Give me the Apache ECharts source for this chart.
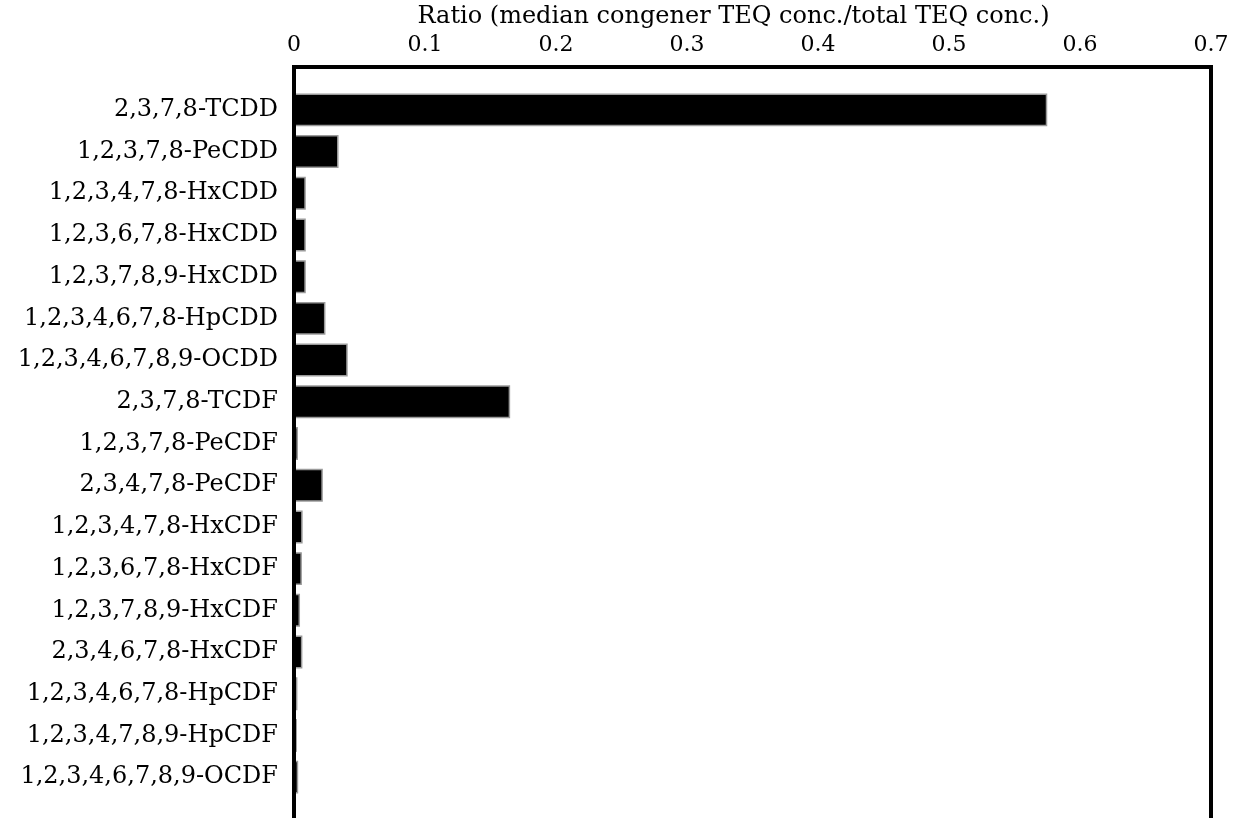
<!DOCTYPE html>
<html>
<head>
<meta charset="utf-8">
<script src="https://cdn.jsdelivr.net/npm/echarts@6/dist/echarts.min.js"></script>
<style>html,body{margin:0;padding:0;background:#fff;}#c{width:1239px;height:818px;}</style>
</head>
<body>
<div id="c"></div>
<script>
const categories = [
  "2,3,7,8-TCDD", "1,2,3,7,8-PeCDD", "1,2,3,4,7,8-HxCDD", "1,2,3,6,7,8-HxCDD",
  "1,2,3,7,8,9-HxCDD", "1,2,3,4,6,7,8-HpCDD", "1,2,3,4,6,7,8,9-OCDD", "2,3,7,8-TCDF",
  "1,2,3,7,8-PeCDF", "2,3,4,7,8-PeCDF", "1,2,3,4,7,8-HxCDF", "1,2,3,6,7,8-HxCDF",
  "1,2,3,7,8,9-HxCDF", "2,3,4,6,7,8-HxCDF", "1,2,3,4,6,7,8-HpCDF", "1,2,3,4,7,8,9-HpCDF",
  "1,2,3,4,6,7,8,9-OCDF"
];
const ratios = [
  0.575, 0.034, 0.009, 0.009, 0.009, 0.024, 0.041, 0.165,
  0.003, 0.022, 0.0066, 0.006, 0.0046, 0.0064, 0.0026, 0.0022, 0.0032
];
const xTicks = { min: 0, max: 0.7, interval: 0.1 };
const axisTitle = "Ratio (median congener TEQ conc./total TEQ conc.)";

const FONT = "DejaVu Serif";
const chart = echarts.init(document.getElementById('c'), null, { renderer: 'canvas' });
chart.setOption({
  animation: false,
  backgroundColor: '#fff',
  textStyle: { fontFamily: FONT, color: '#000' },
  grid: [
    { left: 294, right: 28, top: 67, bottom: -30, show: true, borderColor: '#000', borderWidth: 4,
      backgroundColor: 'transparent', z: 5, containLabel: false, outerBoundsMode: 'none' },
    { left: 294, right: 28, top: 89, height: 709, containLabel: false, outerBoundsMode: 'none' }
  ],
  xAxis: [
    {
      gridIndex: 0, type: 'value', position: 'top',
      min: xTicks.min, max: xTicks.max, interval: xTicks.interval,
      name: axisTitle, nameLocation: 'middle', nameGap: 35,
      nameTextStyle: { fontFamily: FONT, fontSize: 24, color: '#000', padding: [0, 38, 0, 0] },
      axisLine: { show: true, lineStyle: { color: '#000', width: 4 } },
      axisTick: { show: true, inside: true, length: 6, lineStyle: { color: '#333', width: 1 } },
      axisLabel: { fontFamily: FONT, fontSize: 22, color: '#000', margin: 11,
        formatter: v => (Math.round(v * 10) / 10).toString() },
      splitLine: { show: false }
    },
    {
      gridIndex: 1, type: 'value', min: xTicks.min, max: xTicks.max,
      show: false
    }
  ],
  yAxis: [
    {
      gridIndex: 0, type: 'value', min: 0, max: 1,
      axisLine: { show: true, lineStyle: { color: '#000', width: 4 } },
      axisTick: { show: false }, axisLabel: { show: false }, splitLine: { show: false }
    },
    {
      gridIndex: 1, type: 'category', inverse: true, data: categories,
      axisLine: { show: false }, axisTick: { show: false },
      axisLabel: { fontFamily: FONT, fontSize: 24, color: '#000', margin: 16 },
      splitLine: { show: false }
    }
  ],
  series: [
    {
      type: 'bar', xAxisIndex: 1, yAxisIndex: 1,
      data: ratios,
      barCategoryGap: '21%',
      itemStyle: { color: '#000', borderColor: '#9a9a9a', borderWidth: 1.5 }
    }
  ]
});
</script>
</body>
</html>
